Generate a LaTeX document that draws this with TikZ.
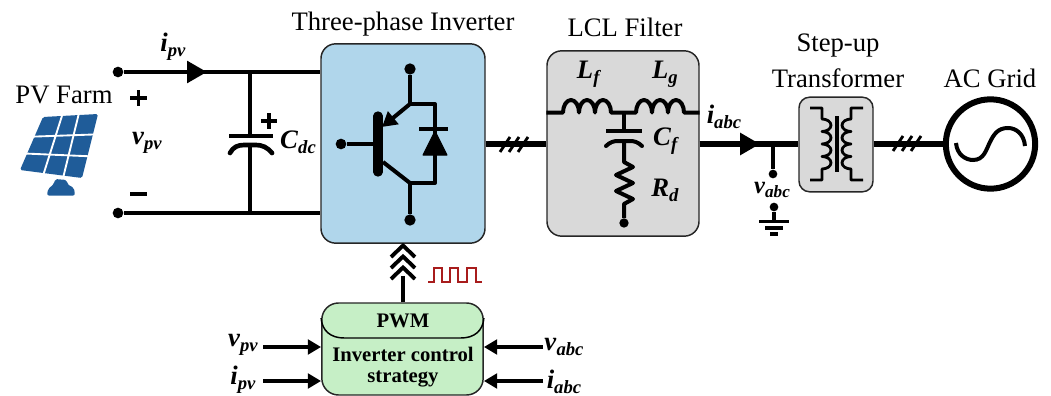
\documentclass[tikz,border=0pt]{standalone}
\usepackage{fontspec}
\setmainfont{Liberation Serif}
\usetikzlibrary{arrows.meta,calc}
\definecolor{blueBox}{HTML}{B0D6EB}
\definecolor{grayBox}{HTML}{D9D9D9}
\definecolor{greenBox}{HTML}{C6EFC6}
\definecolor{panelBlue}{HTML}{1F5C99}
\definecolor{pulseRed}{HTML}{A81C1C}
\newcommand{\lab}[2]{\textbf{\textit{#1}}\raisebox{-.4ex}{\fontsize{14}{14}\selectfont\textbf{\textit{#2}}}}
\tikzset{
  x=0.75pt,y=0.75pt,
  title/.style={font=\fontsize{20}{22}\selectfont,inner sep=0pt},
  symb/.style={font=\fontsize{20}{22}\selectfont,inner sep=0pt},
  ctltext/.style={font=\fontsize{15.5}{15.5}\selectfont\bfseries,inner sep=0pt,align=center},
  panelbox/.style={draw=black!85,line width=1.1pt,rounded corners=11pt,inner sep=0pt},
  wire/.style={line width=3.5pt},
  bus/.style={line width=4.8pt},
  thin wire/.style={line width=3pt,line join=round},
  hash/.style={line width=2.1pt},
  dot/.style={circle,fill=black,inner sep=0pt,minimum size=8pt},
  smalldot/.style={circle,fill=black,inner sep=0pt,minimum size=6.5pt},
  flow/.style={-{Triangle[length=15pt,width=16pt]}},
  inarrow/.style={line width=2.6pt,-{Triangle[length=10pt,width=11pt]}},
  chevron/.style={line width=2.9pt,miter limit=10},
}
\begin{document}
\begin{tikzpicture}
\useasboundingbox (0,0) rectangle (1051,-396);
% boxes
\node[panelbox,fill=blueBox,minimum width=123pt,minimum height=149.5pt] (inv) at (403,-143.5) {};
\node[panelbox,fill=grayBox,minimum width=114pt,minimum height=139pt] (lcl) at (623,-143.5) {};
\node[panelbox,fill=grayBox,rounded corners=8pt,minimum width=55.5pt,minimum height=71pt] (xfmr) at (836,-144.5) {};
\node[circle,draw=black,line width=4.5pt,fill=white,minimum size=67pt,inner sep=0pt] (grid) at (990.5,-144) {};
\node[panelbox,fill=greenBox,rounded corners=12.5pt,minimum width=121pt,minimum height=69pt] (ctrl) at (402.5,-349) {};
% titles
\node[title] (t1) at (64,-95) {PV Farm};
\node[title] (t2) at (403,-24) {Three-phase Inverter};
\node[title] (t3) at (625,-27) {LCL Filter};
\node[title] (t4) at (838,-46) {Step-up};
\node[title] (t5) at (838,-78) {Transformer};
\node[title] (t6) at (990,-78) {AC Grid};
% PV panel
\coordinate (TL) at (43,-117);
\coordinate (TR) at (98,-114);
\coordinate (BR) at (82,-178);
\coordinate (BL) at (20,-170);
\fill[panelBlue,rounded corners=1.2pt] (TL)--(TR)--(BR)--(BL)--cycle;
\foreach \p/\q in {.35/.38,.65/.70}{
  \draw[white,line width=1.4pt] ($(TL)!\p!(TR)+(0,1)$) -- ($(BL)!\q!(BR)+(0,-1)$);
}
\foreach \p/\q in {.37/.32,.69/.66}{
  \draw[white,line width=1.4pt] ($(TL)!\p!(BL)+(-1,0)$) -- ($(TR)!\q!(BR)+(1,0)$);
}
\fill[panelBlue,rounded corners=1.5pt] (47,-195.5)--(75,-195.5)--(74,-188)--(67,-184)--(67,-180)--(55,-179)--(54,-184)--(48,-189)--cycle;
% DC side
\node[dot] (pvp) at (118,-72) {};
\node[dot] (pvn) at (118,-213) {};
\coordinate (invtl) at (inv.west |- pvp);
\coordinate (invbl) at (inv.west |- pvn);
\coordinate (iarrow) at (207,-72);
\coordinate (captop) at (250,-72);
\coordinate (capbot) at (250,-213);
\coordinate (capA) at (250,-136);
\coordinate (capB) at (250,-146);
\draw[wire] (pvp) -- (invtl);
\draw[wire,flow] (pvp) -- (iarrow);
\draw[wire] (pvn) -- (invbl);
\draw[wire] (captop) -- (capA);
\draw[wire] (capB) -- (capbot);
\draw[wire] (229,-136) -- (273,-136);
\draw[wire,line cap=round] (230,-153) .. controls (233,-147) and (238,-145) .. (244,-145) -- (256,-145) .. controls (262,-145) and (267,-147) .. (272,-153);
\node[symb] (ipv) at (173,-47) {\lab{i}{pv}};
\node[symb] (vpv) at (147,-143) {\lab{v}{pv}};
\node[symb] (cdc) at (298,-142) {\lab{C}{dc}};
\draw[line width=2.8pt] (130,-98) -- (147,-98) (138.5,-90) -- (138.5,-106);
\draw[line width=3pt] (130,-194) -- (147,-194);
\draw[line width=2.6pt] (261,-121) -- (277,-121) (269,-113) -- (269,-129);
% IGBT
\node[dot,minimum size=8.5pt] (c) at (410,-69) {};
\node[dot,minimum size=8.5pt] (e) at (410,-220) {};
\node[dot,minimum size=8pt] (g) at (341,-144) {};
\coordinate (ct) at (410,-104);
\coordinate (eb) at (410,-183);
\coordinate (dt) at (435,-104);
\coordinate (db) at (435,-183);
\coordinate (bar1) at (378,-116);
\coordinate (bar2) at (378,-172);
\coordinate (gatebar) at (378,-144);
\draw[thin wire] (c) -- (ct) -- (dt) -- (db) -- (eb) -- (e);
\draw[thin wire] (g) -- (gatebar);
\draw[line width=7pt,line cap=round] (bar1) -- (bar2);
\draw[thin wire,-{Triangle[length=11pt,width=12pt]}] (ct) -- (382,-127);
\draw[thin wire] (383,-162) -- (eb);
\draw[line width=2.8pt] (419,-129) -- (448,-129);
\fill[line join=round,draw=black,line width=.8pt] (435,-131) -- (423,-155) -- (447,-155) -- cycle;
% bus inverter to filter
\coordinate (busA) at (inv.east |- grid.west);
\coordinate (busB) at (lcl.west |- grid.west);
\coordinate (busC) at (lcl.east |- grid.west);
\coordinate (busD) at (xfmr.west |- grid.west);
\coordinate (busE) at (xfmr.east |- grid.west);
\draw[bus] (busA) -- (busB);
\foreach \dx in {0,9,18}{ \draw[hash] (500+\dx,-152) -- (510+\dx,-137); }
% LCL
\coordinate (l1) at (lcl.west |- 0,-112.5);
\coordinate (l2) at (lcl.east |- 0,-112.5);
\coordinate (mid) at (624,-112.5);
\draw[thin wire] (l1) -- (563,-112.5)
  arc[start angle=180,end angle=0,x radius=8,y radius=12.5]
  arc[start angle=180,end angle=0,x radius=8,y radius=12.5]
  arc[start angle=180,end angle=0,x radius=8,y radius=12.5]
  -- (636,-112.5)
  arc[start angle=180,end angle=0,x radius=8,y radius=12.5]
  arc[start angle=180,end angle=0,x radius=8,y radius=12.5]
  arc[start angle=180,end angle=0,x radius=8,y radius=12.5]
  -- (l2);
\node[smalldot,minimum size=7pt] (rd) at (624,-223) {};
\draw[thin wire] (mid) -- (624,-131);
\draw[thin wire] (606,-131) -- (642,-131);
\draw[thin wire,line cap=round] (606,-146) .. controls (610,-142) and (614,-141) .. (618,-141) -- (630,-141) .. controls (634,-141) and (638,-142) .. (642,-146);
\draw[thin wire] (624,-141) -- (624,-162) -- (633,-167) -- (616,-175) -- (633,-183) -- (616,-191) -- (633,-199) -- (624,-204) -- (rd);
\node[symb] (lf) at (589,-74) {\lab{L}{f}};
\node[symb] (lg) at (665,-74) {\lab{L}{g}};
\node[symb] (cf) at (666,-141) {\lab{C}{f}};
\node[symb] (rdl) at (665,-190) {\lab{R}{d}};
% AC side
\draw[bus] (busC) -- (busD);
\coordinate (iac) at (760,-144);
\draw[bus,flow] (busC) -- (iac);
\node[smalldot] (vac) at (773,-174) {};
\coordinate (vbr) at (773,-144);
\draw[line width=2.8pt] (vbr) -- (vac);
\node[symb] (iabc) at (724,-117) {\lab{i}{abc}};
\node[symb,scale=.92] (vabc) at (772,-190) {\lab{v}{abc}};
\node[smalldot] (gnd) at (774,-207) {};
\coordinate (gb) at (774,-221);
\draw[line width=2.6pt] (gnd) -- (gb);
\draw[line width=2.4pt] (759,-221.5) -- (789,-221.5);
\draw[line width=2.4pt] (765,-228) -- (783,-228);
\draw[line width=2.4pt] (770,-234) -- (778,-234);
% transformer
\draw[line width=3.5pt] (837,-116) -- (837,-172);
\draw[line width=2.1pt,line join=round] (810,-108) -- (822,-108) -- (822,-119)
  arc[start angle=90,end angle=-90,x radius=9,y radius=6.25]
  arc[start angle=90,end angle=-90,x radius=9,y radius=6.25]
  arc[start angle=90,end angle=-90,x radius=9,y radius=6.25]
  arc[start angle=90,end angle=-90,x radius=9,y radius=6.25]
  -- (822,-180) -- (810,-180);
\draw[line width=2.1pt,line join=round] (863,-108) -- (851,-108) -- (851,-119)
  arc[start angle=90,end angle=270,x radius=9,y radius=6.25]
  arc[start angle=90,end angle=270,x radius=9,y radius=6.25]
  arc[start angle=90,end angle=270,x radius=9,y radius=6.25]
  arc[start angle=90,end angle=270,x radius=9,y radius=6.25]
  -- (851,-180) -- (863,-180);
\draw[bus] (busE) -- (grid.west);
\foreach \dx in {0,9,18}{ \draw[hash] (893+\dx,-151) -- (903+\dx,-136); }
% grid sine
\draw[line width=3pt] (956,-143) .. controls (957,-155) and (966,-160) .. (973,-160) .. controls (984,-160) and (986,-150) .. (990,-142) .. controls (994,-134) and (998,-128) .. (1008,-128) .. controls (1016,-128) and (1024,-134) .. (1025,-146);
% PWM link
\coordinate (chev) at (403,-276);
\draw[line width=3.2pt] (ctrl.north -| chev) -- (chev);
\draw[chevron] (391,-257) -- (403,-245.5) -- (415,-257);
\draw[chevron] (391,-268) -- (403,-256.5) -- (415,-268);
\draw[chevron] (391,-279) -- (403,-267.5) -- (415,-279);
\draw[pulseRed,line width=1.5pt] (428,-282) -- (434,-282) -- (434,-268) -- (442,-268) -- (442,-282) -- (450,-282) -- (450,-268) -- (458,-268) -- (458,-282) -- (467,-282) -- (467,-268) -- (476,-268) -- (476,-282) -- (482,-282);
% control
\draw[line width=1.1pt] (ctrl.west |- 0,-318) .. controls (322,-331) and (331,-338) .. (344,-338) -- (461,-338) .. controls (474,-338) and (483,-331) .. (ctrl.east |- 0,-318);
\node[ctltext] (pwm) at (403,-321) {PWM};
\node[ctltext] (ics) at (403,-367) {Inverter control\\strategy};
\coordinate (a1) at (263,-347);
\coordinate (a2) at (263,-381);
\coordinate (a3) at (543,-347);
\coordinate (a4) at (543,-381);
\draw[inarrow] (a1) -- (a1 -| ctrl.west);
\draw[inarrow] (a2) -- (a2 -| ctrl.west);
\draw[inarrow] (a3) -- (a3 -| ctrl.east);
\draw[inarrow] (a4) -- (a4 -| ctrl.east);
\node[symb] (v1) at (243,-345) {\lab{v}{pv}};
\node[symb] (i1) at (243,-380) {\lab{i}{pv}};
\node[symb] (v2) at (564,-347) {\lab{v}{abc}};
\node[symb] (i2) at (564,-382) {\lab{i}{abc}};
\end{tikzpicture}
\end{document}
